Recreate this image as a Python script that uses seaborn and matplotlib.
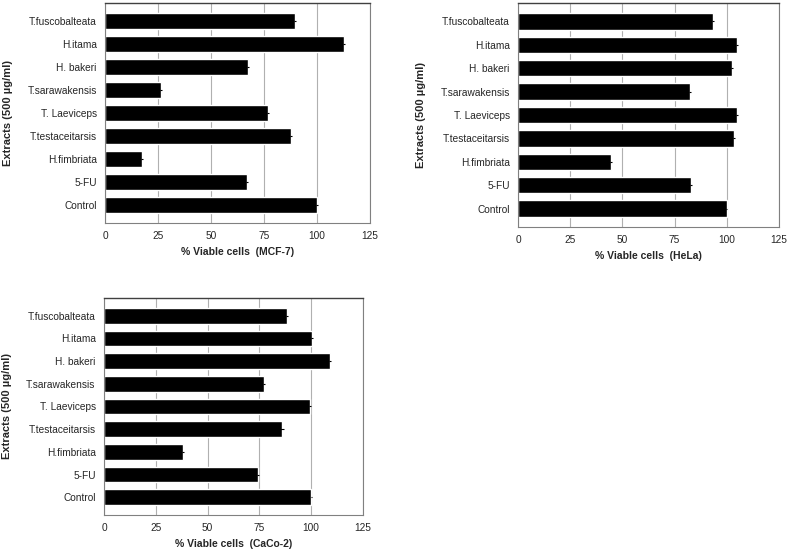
import numpy as np
import pandas as pd
import matplotlib
matplotlib.use("Agg")
import matplotlib.pyplot as plt
import seaborn as sns

# Extract names, top to bottom as shown
extracts = ['T.fuscobalteata', 'H.itama', 'H. bakeri', 'T.sarawakensis',
            'T. Laeviceps', 'T.testaceitarsis', 'H.fimbriata', '5-FU', 'Control']

# % viable cells per cell line
mcf7 = [89.6, 112.9, 67.6, 26.5, 77.0, 87.6, 17.5, 66.8, 100.0]
hela = [93.5, 104.7, 102.6, 82.5, 105.0, 103.6, 44.5, 82.8, 100.0]
caco2 = [88.2, 100.2, 109.2, 77.3, 99.5, 85.8, 38.2, 74.2, 100.0]

# small error bars visible at bar ends
mcf7_err = [0.5, 0.5, 0.5, 0.5, 0.5, 0.5, 0.3, 0.5, 0.3]
hela_err = [0.5, 0.5, 0.5, 0.5, 0.5, 0.5, 0.5, 0.5, 0.3]
caco2_err = [0.5, 0.5, 0.5, 0.5, 0.5, 1.0, 0.5, 0.5, 0.3]

xticks = [0, 25, 50, 75, 100, 125]

sns.set_style("white")
plt.rcParams['font.family'] = ['Liberation Sans', 'DejaVu Sans']

fig = plt.figure(figsize=(7.87, 5.54), dpi=100)

panels = [
    (mcf7, mcf7_err, '% Viable cells  (MCF-7)', [0.1334, 0.5975, 0.3367, 0.397]),
    (hela, hela_err, '% Viable cells  (HeLa)', [0.6582, 0.5903, 0.3316, 0.4043]),
    (caco2, caco2_err, '% Viable cells  (CaCo-2)', [0.1321, 0.0704, 0.3291, 0.3917]),
]

for vals, errs, xlabel, rect in panels:
    ax = fig.add_axes(rect)
    df = pd.DataFrame({'Extract': extracts, 'Viable': vals})
    ax.xaxis.grid(True, color='#b0b0b0', linewidth=0.8)
    ax.set_axisbelow(True)
    sns.barplot(data=df, y='Extract', x='Viable', orient='h', color='black',
                width=0.7, errorbar=None, saturation=1, ax=ax)
    ax.errorbar(vals, np.arange(len(extracts)), xerr=errs, fmt='none',
                ecolor='black', elinewidth=0.8, capsize=0)
    ax.set_xlim(0, 125)
    ax.set_xticks(xticks)
    ax.tick_params(axis='both', labelsize=7.3, length=0, pad=6)
    ax.set_xlabel(xlabel, fontsize=7.5, fontweight='bold', labelpad=4)
    ax.set_ylabel('Extracts (500 µg/ml)', fontsize=8, fontweight='bold', labelpad=10)
    for side in ['left', 'bottom', 'right']:
        ax.spines[side].set_color('#808080')
        ax.spines[side].set_linewidth(0.8)
    ax.spines['top'].set_color('#404040')
    ax.spines['top'].set_linewidth(1.0)

fig.savefig('out.png', dpi=100)
